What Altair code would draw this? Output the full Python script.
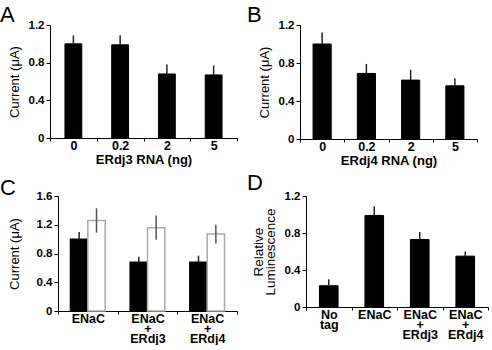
import altair as alt
import pandas as pd

FONT = "Liberation Sans"

# Panel A
a_cats = ["0", "0.2", "2", "5"]
a_vals = [1.00, 0.99, 0.68, 0.67]
a_errs = [0.09, 0.10, 0.10, 0.10]

# Panel B
b_cats = ["0", "0.2", "2", "5"]
b_vals = [1.00, 0.69, 0.62, 0.56]
b_errs = [0.12, 0.10, 0.11, 0.08]

# Panel C
c_cats = ["ENaC", "ENaC\n+\nERdj3", "ENaC\n+\nERdj4"]
c_black = [1.00, 0.68, 0.68]
c_black_err = [0.10, 0.07, 0.09]
c_white = [1.26, 1.16, 1.07]
c_white_err = [0.17, 0.17, 0.13]

# Panel D
d_cats = ["No\ntag", "ENaC", "ENaC\n+\nERdj3", "ENaC\n+\nERdj4"]
d_vals = [0.23, 0.99, 0.73, 0.55]
d_errs = [0.07, 0.10, 0.08, 0.05]


def y_axis(title, ticks, tpad=7, tsize=13, offset=0):
    kw = dict(
        values=ticks, tickCount=len(ticks), title=title, grid=False, labelOverlap=False,
        labelExpr="datum.value == 0 ? '0' : format(datum.value, '.1f')",
        domainColor="black", tickColor="black", tickSize=4,
        labelFont=FONT, labelFontWeight="bold", labelFontSize=11.5, labelColor="black",
        titleFont=FONT, titleFontWeight="normal", titleFontSize=tsize, titleColor="black",
        titlePadding=tpad, labelPadding=2, titleLineHeight=12,
    )
    if offset:
        kw["offset"] = offset
    return alt.Axis(**kw)


def x_axis(title, multiline):
    ax = dict(
        labelAngle=0, tickBand="extent", domainColor="black", tickColor="black",
        tickSize=3, labelFont=FONT, labelFontWeight="bold", labelFontSize=12.5,
        labelColor="black", labelPadding=-2, labelOverlap=False,
        titleFont=FONT, titleFontWeight="bold", titleFontSize=13, titleColor="black",
        titlePadding=2,
    )
    if multiline:
        ax["labelExpr"] = "split(datum.label, '\\n')"
        ax["labelLineHeight"] = 10
    ax["title"] = title if title else None
    return alt.Axis(**ax)


def letter(ch, dx, dy, opacity=1):
    return alt.Chart(pd.DataFrame({"t": [ch]})).mark_text(
        font=FONT, fontSize=22, align="left", baseline="alphabetic", color="black",
        opacity=opacity,
    ).encode(x=alt.value(dx), y=alt.value(dy), text="t:N")


def simple_panel(cats, vals, errs, yax, xtitle, multiline, w, h, letters, bw, xrange=None):
    df = pd.DataFrame({"cat": cats, "val": vals, "err": errs})
    df["hi"] = df["val"] + df["err"]
    sc = dict(paddingInner=0, paddingOuter=0)
    if xrange:
        sc["range"] = xrange
    xenc = alt.X("cat:N", sort=cats, axis=x_axis(xtitle, multiline), scale=alt.Scale(**sc))
    yscale = alt.Scale(domain=[0, 1.2], nice=False)
    base = alt.Chart(df)
    bars = base.mark_bar(color="black", stroke="black", strokeWidth=1,
                         width=alt.RelativeBandSize(bw)).encode(
        x=xenc, y=alt.Y("val:Q", scale=yscale, axis=yax))
    errs_l = base.mark_rule(color="#222", strokeWidth=1.5).encode(
        x=xenc, y=alt.Y("val:Q", scale=yscale), y2="hi:Q")
    return alt.layer(bars, errs_l, *letters).properties(width=w, height=h)


T12 = [0, 0.4, 0.8, 1.2]
pA = simple_panel(a_cats, a_vals, a_errs, y_axis("Current (μA)", T12), "ERdj3 RNA (ng)", False,
                  187, 113, [letter("A", -50, -3)], 0.36)
pB = simple_panel(b_cats, b_vals, b_errs, y_axis("Current (μA)", T12), "ERdj4 RNA (ng)", False,
                  177, 114, [letter("B", -53, -3)], 0.41)
pD = simple_panel(d_cats, d_vals, d_errs,
                  y_axis(["Relative", "Luminescence"], T12, tpad=7, tsize=13.5, offset=-6),
                  None, True, 188, 111, [letter("D", -53, -6)], 0.41, xrange=[6, 188])

# Panel C grouped
rows = []
for c, v, e in zip(c_cats, c_black, c_black_err):
    rows.append({"cat": c, "grp": "a", "val": v, "lo": v, "hi": v + e})
for c, v, e in zip(c_cats, c_white, c_white_err):
    rows.append({"cat": c, "grp": "b", "val": v, "lo": v - e, "hi": v + e})
dfc = pd.DataFrame(rows)
xc = alt.X("cat:N", sort=c_cats, axis=x_axis(None, True),
           scale=alt.Scale(paddingInner=0, paddingOuter=0, range=[8, 187]))
xo = alt.XOffset("grp:N", scale=alt.Scale(paddingOuter=0.72, paddingInner=0))
ysc = alt.Scale(domain=[0, 1.6], nice=False)
cbase = alt.Chart(dfc)
cbars = cbase.mark_bar(strokeWidth=1.5).encode(
    x=xc, xOffset=xo,
    y=alt.Y("val:Q", scale=ysc,
            axis=y_axis("Current (μA)", [0, 0.4, 0.8, 1.2, 1.6], tpad=15, offset=-8)),
    fill=alt.Fill("grp:N", scale=alt.Scale(domain=["a", "b"], range=["black", "white"]), legend=None),
    stroke=alt.Stroke("grp:N", scale=alt.Scale(domain=["a", "b"], range=["black", "#aaaaaa"]), legend=None),
)
cerr = cbase.mark_rule(strokeWidth=1.5).encode(
    x=xc, xOffset=xo, y=alt.Y("lo:Q", scale=ysc), y2="hi:Q",
    color=alt.Color("grp:N", scale=alt.Scale(domain=["a", "b"], range=["#222222", "#555555"]), legend=None),
)
pC = alt.layer(cbars, cerr, letter("C", -50, -1), letter("C", -50, -6, opacity=0)).properties(
    width=187, height=115)

chart = alt.concat(pA, pB, pC, pD, columns=2, spacing={"row": 4, "column": 9}).properties(
    padding={"left": 0, "top": 4, "right": 0, "bottom": 0},
    align="none",
).configure_view(stroke=None)

chart.save("out.html", embed_options={"renderer": "svg", "actions": False})
